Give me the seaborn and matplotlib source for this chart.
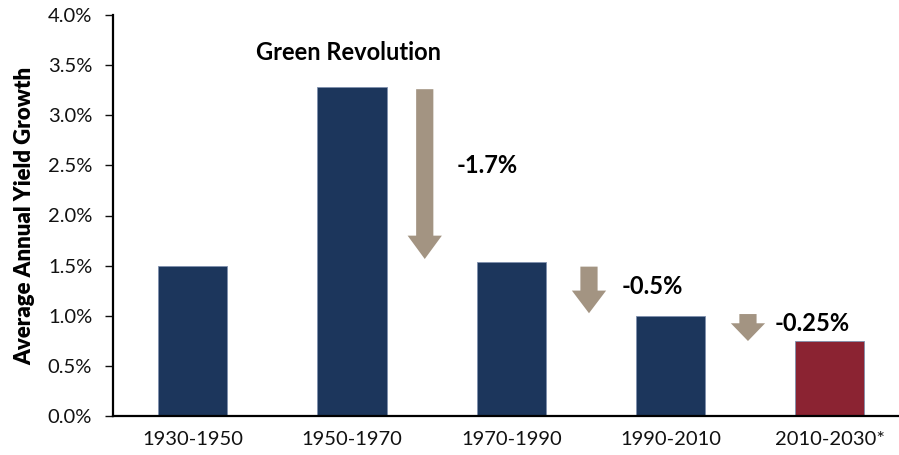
import numpy as np
import pandas as pd
import seaborn as sns
import matplotlib.pyplot as plt
from matplotlib.ticker import FuncFormatter, FixedLocator

periods = ['1930-1950', '1950-1970', '1970-1990', '1990-2010', '2010-2030*']
growth = [1.5, 3.28, 1.54, 1.0, 0.75]
bar_colors = ['#1C365C', '#1C365C', '#1C365C', '#1C365C', '#8B2332']

# drop arrows between periods (x in category units, y in %)
arrow_x = [1.457, 2.488, 3.486]
arrow_top = [3.26, 1.49, 1.017]
arrow_tip = [1.566, 1.025, 0.748]
arrow_labels = ['-1.7%', '-0.5%', '-0.25%']
label_x = [1.848, 2.888, 3.892]
label_y = [2.50, 1.29, 0.925]

sns.set_style('white')
plt.rcParams['font.family'] = ['Lato', 'DejaVu Sans']

df = pd.DataFrame(dict(period=periods, growth=growth))

fig = plt.figure(figsize=(8.99, 4.55), dpi=100)
ax = fig.add_axes([113/899, 39/455, 796.5/899, 401/455])
sns.barplot(data=df, x='period', y='growth', hue='period', palette=bar_colors,
            legend=False, width=0.435, saturation=1, edgecolor='#7F90AD',
            linewidth=0.6, ax=ax)

ax.set_xlim(-0.5, 4.5)
ax.set_ylim(0, 4.0)
ax.set_yticks(np.arange(0, 4.01, 0.5))
ax.yaxis.set_major_formatter(FuncFormatter(lambda v, p: f'{v:.1f}%'))
ax.xaxis.set_minor_locator(FixedLocator(np.arange(-0.5, 4.6, 1.0)))
ax.tick_params(axis='x', which='major', length=0, labelsize=14.5, pad=11, colors='#111111')
ax.tick_params(axis='x', which='minor', length=6, width=1.0, direction='out', color='black')
ax.tick_params(axis='y', length=6, width=1.0, direction='out', labelsize=14.5, pad=9,
               colors='#111111', left=True)
ax.set_xlabel('')
ax.set_ylabel('Average Annual Yield Growth', fontsize=16, fontweight='heavy',
              color='black', labelpad=9)
for s in ['top', 'right']:
    ax.spines[s].set_visible(False)
for s in ['left', 'bottom']:
    ax.spines[s].set_color('black')
    ax.spines[s].set_linewidth(1.6)

for i in range(len(arrow_x)):
    length = arrow_tip[i] - arrow_top[i]
    hl = [0.233, 0.226, 0.177][i]
    ax.arrow(arrow_x[i], arrow_top[i], 0, length + hl, width=0.108, head_width=0.215,
             head_length=hl, length_includes_head=False, color='#A39482', lw=0)
    ax.text(label_x[i], label_y[i], arrow_labels[i], ha='center', va='center',
            fontsize=17, fontweight='bold', color='black')

ax.text(0.978, 3.624, 'Green Revolution', ha='center', va='center',
        fontsize=17, fontweight='bold', color='black')

fig.savefig('out.png', dpi=100)
